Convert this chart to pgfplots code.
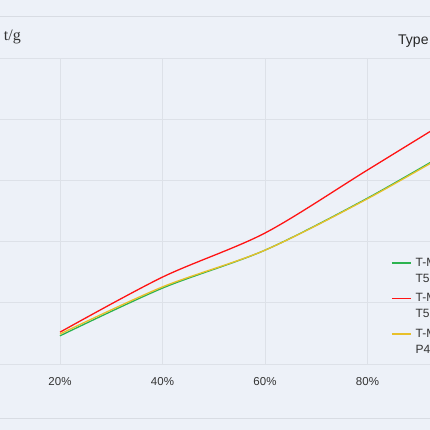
\documentclass[border=0pt]{standalone}
\usepackage{pgfplots}
\pgfplotsset{compat=1.18}
\usepackage{fontspec}
\setmainfont{Liberation Sans}
\newfontfamily\seriffont{Liberation Serif}
\definecolor{bg}{RGB}{237,241,248}
\definecolor{gridc}{RGB}{221,225,232}
\definecolor{axisc}{RGB}{204,209,218}
\definecolor{framec}{RGB}{216,220,227}
\definecolor{labc}{RGB}{51,51,51}
\definecolor{sgreen}{RGB}{44,179,80}
\definecolor{sred}{RGB}{255,20,20}
\definecolor{syellow}{RGB}{232,192,42}
\begin{document}
\begin{tikzpicture}[x=1pt,y=1pt]
\path[use as bounding box] (0,0) rectangle (430,430);
\clip (0,0) rectangle (430,430);
\fill[bg] (0,0) rectangle (430,430);
\draw[framec, line width=0.8pt] (0,414) -- (430,414);
\draw[framec, line width=0.8pt] (0,12) -- (430,12);
\begin{axis}[
  at={(-42.5pt,66pt)}, anchor=south west,
  scale only axis, width=512.5pt, height=306pt,
  xmin=0, xmax=100, ymin=0, ymax=5,
  xtick={0,20,40,60,80,100},
  xticklabel={\pgfmathprintnumber{\tick}\%},
  /pgf/number format/assume math mode=true,
  ytick={0,1,2,3,4,5},
  yticklabels={},
  grid=major,
  major grid style={gridc, line width=0.7pt},
  axis line style={draw=none},
  major tick length=0pt,
  tick style={draw=none},
  xticklabel style={font=\fontsize{11.5}{12}\selectfont, text=labc, anchor=base, yshift=-22pt},
  legend style={at={(axis description cs:0.8458,0.36)}, anchor=north west, draw=none, fill=none,
    font=\fontsize{12}{16}\selectfont, text=labc, row sep=1.5pt, inner sep=0pt,
    nodes={inner sep=1pt, text depth=}},
  legend cell align=left,
  legend image code/.code={\path (0pt,-8pt) (22pt,-8pt); \draw[#1, line width=1.6pt] (0pt,8pt) -- (19pt,8pt);},
]
\draw[axisc, line width=0.9pt] (rel axis cs:0,0) -- (rel axis cs:1,0);
\addplot[sgreen, line width=1.3pt, smooth] coordinates {(20,0.46) (40,1.24) (60,1.86) (80,2.71) (100,3.67)};
\addlegendentry{\begin{tabular}{@{}l@{}}T-Model\\T5 Standard\end{tabular}}
\addplot[sred, line width=1.3pt, smooth] coordinates {(20,0.52) (40,1.42) (60,2.14) (80,3.17) (100,4.2)};
\addlegendentry{\begin{tabular}{@{}l@{}}T-Model\\T5 Plus\end{tabular}}
\addplot[syellow, line width=1.3pt, smooth] coordinates {(20,0.49) (40,1.26) (60,1.86) (80,2.70) (100,3.65)};
\addlegendentry{\begin{tabular}{@{}l@{}}T-Model\\ P4 Series\end{tabular}}
\end{axis}
\node[anchor=base east, font=\seriffont\fontsize{16}{16}\selectfont, text=labc, inner sep=0pt] at (21,389) {Unit: t/g};
\node[anchor=base west, font=\fontsize{14}{14}\selectfont, text=black!85, inner sep=0pt] at (398,385) {Type};
\end{tikzpicture}
\end{document}
